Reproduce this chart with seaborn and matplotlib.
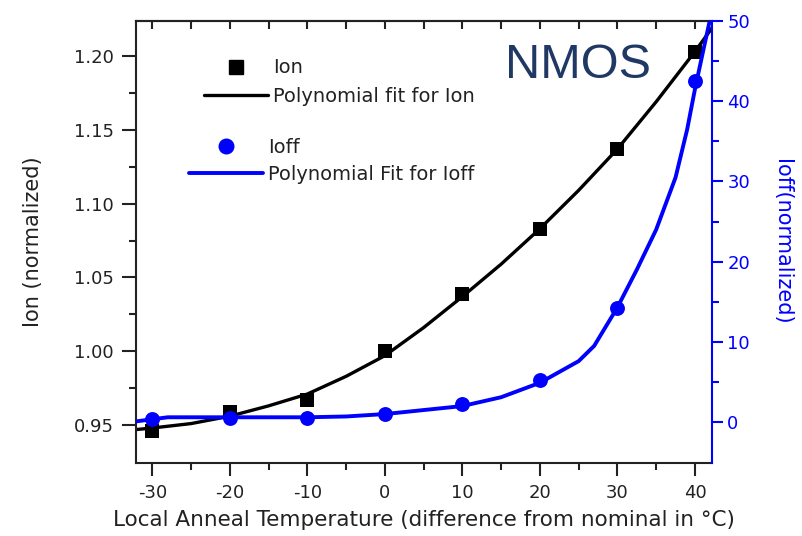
import numpy as np
import pandas as pd
import matplotlib
matplotlib.use("Agg")
import matplotlib.pyplot as plt
import seaborn as sns
from matplotlib.lines import Line2D
from matplotlib.ticker import MultipleLocator

# Measured points
temps = [-30, -20, -10, 0, 10, 20, 30, 40]
ion = [0.946, 0.959, 0.967, 1.000, 1.039, 1.083, 1.137, 1.203]
ioff = [0.4, 0.45, 0.55, 1.0, 2.2, 5.2, 14.2, 42.5]

# Fitted curves, sampled along the temperature range
ion_fit_t = [-32, -30, -25, -20, -15, -10, -5, 0, 5, 10, 15, 20, 25, 30, 35, 40, 42.2]
ion_fit = [0.947, 0.948, 0.951, 0.956, 0.963, 0.971, 0.983, 0.997, 1.016,
           1.037, 1.059, 1.083, 1.109, 1.137, 1.169, 1.203, 1.219]

ioff_fit_t = [-32, -30, -28, -20, -10, -5, 0, 5, 10, 15, 20, 25, 27, 30,
              32.5, 35, 37.5, 39, 40, 41, 41.9]
ioff_fit = [0.1, 0.35, 0.6, 0.6, 0.6, 0.7, 1.0, 1.5, 2.0, 3.1, 4.9, 7.6, 9.5,
            14.3, 19.0, 24.0, 30.5, 36.5, 41.5, 46.0, 50.0]

x_ticks = [-30, -20, -10, 0, 10, 20, 30, 40]
ion_ticks = [0.95, 1.00, 1.05, 1.10, 1.15, 1.20]
ioff_ticks = [0, 10, 20, 30, 40, 50]

pts = pd.DataFrame({"t": temps, "ion": ion, "ioff": ioff})
ion_curve = pd.DataFrame({"t": ion_fit_t, "v": ion_fit})
ioff_curve = pd.DataFrame({"t": ioff_fit_t, "v": ioff_fit})

sns.set_theme(style="ticks")
plt.rcParams["font.family"] = ["DejaVu Sans"]
plt.rcParams["axes.linewidth"] = 1.5

BLUE = "#0000FF"
TXT = "#222222"

fig = plt.figure(figsize=(8.02, 5.36), dpi=100)
ax = fig.add_axes([136 / 802, 1 - 463 / 536, (712 - 136) / 802, (463 - 21) / 536])
ax2 = ax.twinx()

# Ion (left axis)
sns.lineplot(data=ion_curve, x="t", y="v", ax=ax, color="black", lw=2.4,
             sort=False, estimator=None)
sns.scatterplot(data=pts, x="t", y="ion", ax=ax, marker="s", s=100,
                color="black", linewidth=0, zorder=5)

# Ioff (right axis)
sns.lineplot(data=ioff_curve, x="t", y="v", ax=ax2, color=BLUE, lw=2.8,
             sort=False, estimator=None)
sns.scatterplot(data=pts, x="t", y="ioff", ax=ax2, marker="o", s=115,
                color=BLUE, linewidth=0, zorder=5)

ax.set_xlim(-32.1, 42.2)
ax.set_ylim(0.9243, 1.2237)
ax2.set_ylim(-5.1, 50)

ax.set_xticks(x_ticks)
ax.set_xticklabels([str(v) for v in x_ticks])
ax.xaxis.set_minor_locator(MultipleLocator(5))
ax.set_yticks(ion_ticks)
ax.set_yticklabels([f"{v:.2f}" for v in ion_ticks])
ax.set_yticks([0.975, 1.025, 1.075, 1.125, 1.175], minor=True)
ax2.set_yticks(ioff_ticks)
ax2.set_yticklabels([str(v) for v in ioff_ticks])
ax2.set_yticks([5, 15, 25, 35, 45], minor=True)

ax.tick_params(axis="x", which="major", direction="out", length=9, width=1.5,
               colors=TXT, labelsize=13, pad=6)
ax.tick_params(axis="x", which="minor", direction="out", length=5, width=1.5,
               color=TXT)
ax.tick_params(axis="y", which="major", direction="out", length=10, width=1.5,
               colors=TXT, labelsize=13, pad=6)
ax.tick_params(axis="y", which="minor", direction="out", length=5, width=1.5,
               color=TXT)
ax2.tick_params(axis="y", which="major", direction="out", length=8, width=1.5,
                colors=BLUE, labelsize=13, pad=3)
ax2.tick_params(axis="y", which="minor", direction="out", length=5, width=1.5,
                color=BLUE)

# inward ticks along the top edge
top = ax.secondary_xaxis("top")
top.set_xticks(list(range(-30, 45, 5)))
top.tick_params(axis="x", direction="in", length=6, width=1.5, labeltop=False,
                color=TXT)
top.spines["top"].set_linewidth(1.5)

for side in ("left", "top", "bottom"):
    ax2.spines[side].set_visible(False)
ax2.spines["right"].set_color(BLUE)
ax2.spines["right"].set_linewidth(1.5)
ax.spines["right"].set_visible(False)
for side in ("left", "top", "bottom"):
    ax.spines[side].set_color(TXT)

ax.set_xlabel("Local Anneal Temperature (difference from nominal in °C)",
              fontsize=15.5, color=TXT, labelpad=6)
ax.set_ylabel("Ion (normalized)", fontsize=15, color=TXT, labelpad=22)
ax2.set_ylabel("Ioff(normalized)", fontsize=15, color=BLUE, rotation=270,
               labelpad=30)

ax.text(0.64, 0.871, "NMOS", transform=ax.transAxes, fontsize=35,
        color="#1F3864", family="Liberation Sans", ha="left", va="baseline")

# Legends
h_ion = [Line2D([], [], marker="s", ls="none", color="black", markersize=10),
         Line2D([], [], color="black", lw=2.4)]
ax.legend(h_ion, ["Ion", "Polynomial fit for Ion"], loc="upper left",
          bbox_to_anchor=(0.088, 0.955), frameon=False, fontsize=14,
          handlelength=3.3, handletextpad=0.25, labelspacing=0.5,
          labelcolor=TXT)
h_ioff = [Line2D([], [], marker="o", ls="none", color=BLUE, markersize=10.5),
          Line2D([], [], color=BLUE, lw=2.8)]
ax2.legend(h_ioff, ["Ioff", "Polynomial Fit for Ioff"], loc="upper left",
           bbox_to_anchor=(0.062, 0.775), frameon=False, fontsize=14,
           handlelength=3.8, handletextpad=0.25, labelspacing=0.4,
           labelcolor=TXT)

fig.savefig("out.png", dpi=100)
